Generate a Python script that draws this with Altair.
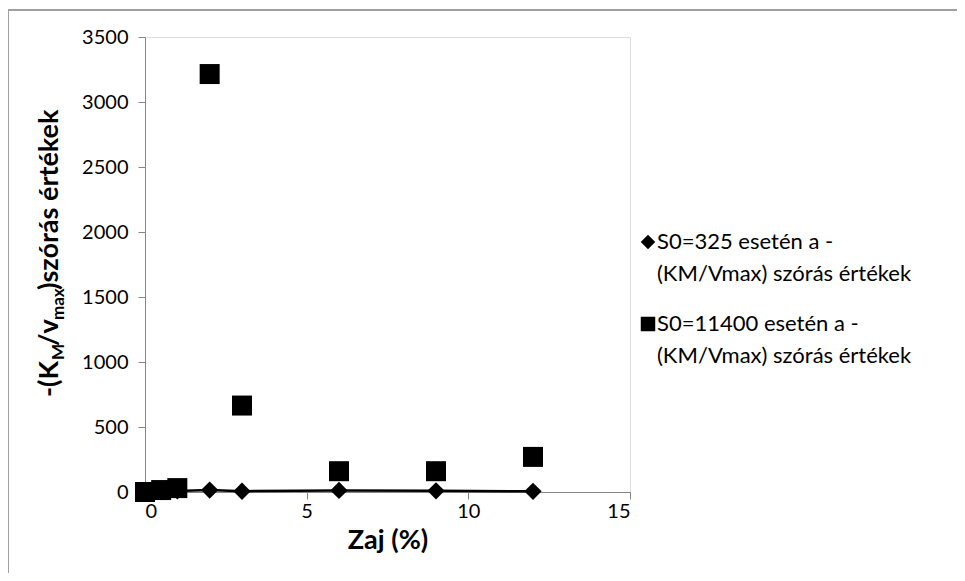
import altair as alt
import pandas as pd

# Data
zaj = [0, 0.5, 1, 2, 3, 6, 9, 12]
s0_325 = [0.5, 4, 8, 15, 6, 12, 9, 5]
s0_11400 = [0, 15, 30, 3215, 665, 160, 160, 270]

x_ticks = [0, 5, 10, 15]
y_ticks = [0, 500, 1000, 1500, 2000, 2500, 3000, 3500]

legend_1 = ["S0=325 esetén a -", "(KM/Vmax) szórás értékek"]
legend_2 = ["S0=11400 esetén a -", "(KM/Vmax) szórás értékek"]

df = pd.DataFrame({"zaj": zaj, "a": s0_325, "b": s0_11400})

FONT = "Lato"
GRAY = "#868686"
W, H = 485, 455

xs = alt.Scale(domain=[0, 15], nice=False, zero=False)
ys = alt.Scale(domain=[0, 3500], nice=False)

x_axis = alt.Axis(values=x_ticks, grid=False, domainColor=GRAY, tickColor=GRAY,
                  tickSize=7, labelFontSize=20, labelFont=FONT, labelColor="black",
                  labelPadding=2, title="Zaj (%)", titleFont=FONT, titleFontSize=27,
                  titleFontWeight="bold", titleColor="black", titlePadding=6)
y_axis = alt.Axis(values=y_ticks, format="d", grid=False, domainColor=GRAY, tickColor=GRAY,
                  tickSize=7, labelFontSize=20, labelFont=FONT, labelColor="black",
                  labelPadding=10, title=None)

base = alt.Chart(df)
X = alt.X("zaj:Q", scale=xs, axis=x_axis)

line = base.mark_line(color="black", strokeWidth=2.5).encode(
    x=X, y=alt.Y("a:Q", scale=ys, axis=y_axis))
diam = base.mark_point(shape="diamond", filled=True, color="black", size=300, opacity=1).encode(
    x=alt.X("zaj:Q", scale=xs), y=alt.Y("a:Q", scale=ys))
sq = base.mark_point(shape="square", filled=True, color="black", size=400, opacity=1).encode(
    x=alt.X("zaj:Q", scale=xs), y=alt.Y("b:Q", scale=ys))

one = alt.Data(values=[{"k": 1}])

def txt(s, x, y, size=22, weight="normal", angle=0, baseline="middle", align="left"):
    return alt.Chart(one).mark_text(
        text=s, font=FONT, fontSize=size, fontWeight=weight, angle=angle,
        baseline=baseline, align=align, color="black"
    ).encode(x=alt.value(x), y=alt.value(y))

def sym(shape, x, y, size):
    return alt.Chart(one).mark_point(shape=shape, filled=True, color="black",
                                     size=size, opacity=1).encode(
        x=alt.value(x), y=alt.value(y))

layers = [line, diam, sq]

# Legend (manual, two lines per entry)
layers += [sym("diamond", 503, 205, 210), txt(legend_1[0], 512, 205), txt(legend_1[1], 512, 237),
           sym("square", 503, 287, 210), txt(legend_2[0], 512, 287), txt(legend_2[1], 512, 319)]

# Y axis title with subscripts, rotated
TX = -87
layers += [
    txt("-(K", TX, 360, size=27, weight="bold", angle=270, baseline="alphabetic"),
    txt("M", TX + 6, 323, size=17, weight="bold", angle=270, baseline="alphabetic"),
    txt("/v", TX, 309, size=27, weight="bold", angle=270, baseline="alphabetic"),
    txt("max", TX + 6, 283, size=17, weight="bold", angle=270, baseline="alphabetic"),
    txt(")szórás értékek", TX, 253, size=27, weight="bold", angle=270, baseline="alphabetic"),
]

# Outer frame (left and top edges)
layers += [
    alt.Chart(one).mark_rule(color="#a0a0a0", strokeWidth=2).encode(
        x=alt.value(-137), y=alt.value(-27), y2=alt.value(600)),
    alt.Chart(one).mark_rule(color="#a0a0a0", strokeWidth=2).encode(
        x=alt.value(-137), x2=alt.value(900), y=alt.value(-27)),
]

chart = alt.layer(*layers).properties(
    width=W, height=H,
    autosize=alt.AutoSizeParams(type="none"),
    padding={"left": 137, "top": 29, "right": 327, "bottom": 81},
).configure_view(stroke=None).configure(background="white")

chart.save("out.html", embed_options={"renderer": "svg", "actions": False})
